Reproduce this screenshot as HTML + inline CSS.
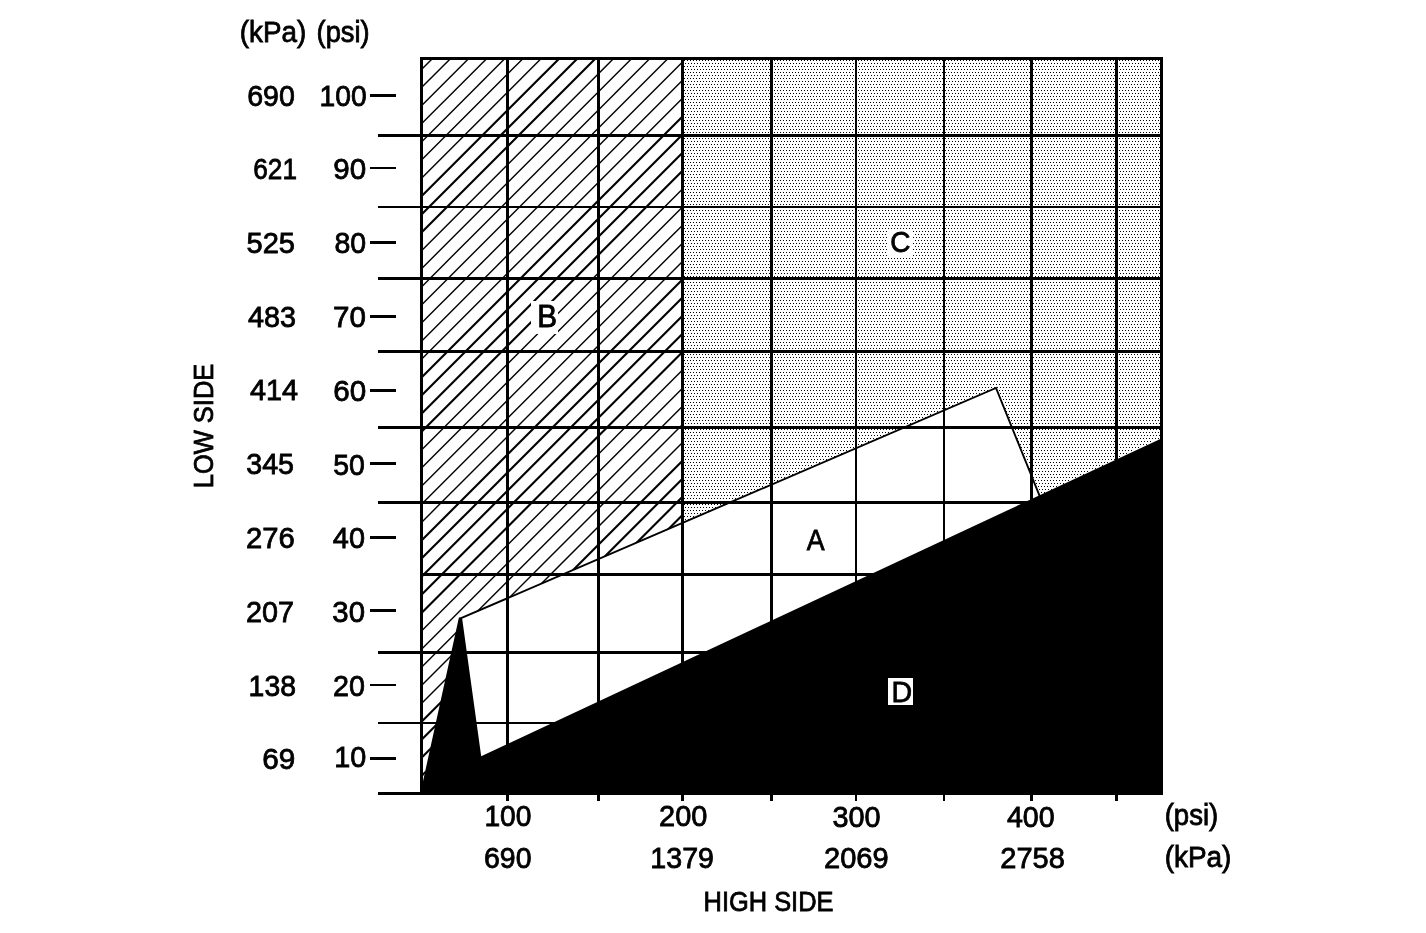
<!DOCTYPE html>
<html lang="en"><head><meta charset="utf-8"><title>A/C Pressure Chart</title>
<style>html,body{margin:0;padding:0;background:#fff}body{width:1426px;height:933px;overflow:hidden}svg{display:block;filter:grayscale(1)}text{font-family:"Liberation Sans",sans-serif;fill:#000;stroke:#000;stroke-width:0.8}</style></head><body>
<svg width="1426" height="933" viewBox="0 0 1426 933">
<defs>
<pattern id="dots" x="0" y="0" width="3" height="6" patternUnits="userSpaceOnUse"><rect x="0" y="0" width="1" height="1" fill="#000"/><rect x="1" y="3" width="1" height="1" fill="#000"/></pattern>
<clipPath id="cB"><polygon points="421.5,58.5 682.5,58.5 682.5,522.9 460.5,618.4 420.0,795.0"/></clipPath>
</defs>
<rect width="1426" height="933" fill="#fff"/>
<g clip-path="url(#cB)" stroke="#000" stroke-width="1.42">
<line x1="-359.00" y1="850.00" x2="451.00" y2="40.00"/>
<line x1="-340.88" y1="850.00" x2="469.12" y2="40.00"/>
<line x1="-322.77" y1="850.00" x2="487.23" y2="40.00"/>
<line x1="-304.65" y1="850.00" x2="505.35" y2="40.00"/>
<line x1="-286.54" y1="850.00" x2="523.46" y2="40.00"/>
<line x1="-268.42" y1="850.00" x2="541.58" y2="40.00"/>
<line x1="-250.31" y1="850.00" x2="559.69" y2="40.00"/>
<line x1="-232.20" y1="850.00" x2="577.80" y2="40.00" stroke-width="2.12"/>
<line x1="-214.08" y1="850.00" x2="595.92" y2="40.00" stroke-width="2.12"/>
<line x1="-195.97" y1="850.00" x2="614.03" y2="40.00" stroke-width="2.12"/>
<line x1="-177.85" y1="850.00" x2="632.15" y2="40.00"/>
<line x1="-159.74" y1="850.00" x2="650.26" y2="40.00"/>
<line x1="-141.62" y1="850.00" x2="668.38" y2="40.00"/>
<line x1="-123.50" y1="850.00" x2="686.50" y2="40.00"/>
<line x1="-105.39" y1="850.00" x2="704.61" y2="40.00"/>
<line x1="-87.28" y1="850.00" x2="722.72" y2="40.00"/>
<line x1="-69.16" y1="850.00" x2="740.84" y2="40.00"/>
<line x1="-51.05" y1="850.00" x2="758.95" y2="40.00" stroke-width="2.12"/>
<line x1="-32.93" y1="850.00" x2="777.07" y2="40.00" stroke-width="2.12"/>
<line x1="-14.82" y1="850.00" x2="795.18" y2="40.00" stroke-width="2.12"/>
<line x1="3.30" y1="850.00" x2="813.30" y2="40.00" stroke-width="2.12"/>
<line x1="21.41" y1="850.00" x2="831.41" y2="40.00"/>
<line x1="39.53" y1="850.00" x2="849.53" y2="40.00"/>
<line x1="57.64" y1="850.00" x2="867.64" y2="40.00"/>
<line x1="75.76" y1="850.00" x2="885.76" y2="40.00"/>
<line x1="93.88" y1="850.00" x2="903.88" y2="40.00"/>
<line x1="111.99" y1="850.00" x2="921.99" y2="40.00" stroke-width="2.12"/>
<line x1="130.11" y1="850.00" x2="940.11" y2="40.00" stroke-width="2.12"/>
<line x1="148.22" y1="850.00" x2="958.22" y2="40.00" stroke-width="2.12"/>
<line x1="166.33" y1="850.00" x2="976.33" y2="40.00" stroke-width="2.12"/>
<line x1="184.45" y1="850.00" x2="994.45" y2="40.00" stroke-width="2.12"/>
<line x1="202.57" y1="850.00" x2="1012.57" y2="40.00"/>
<line x1="220.68" y1="850.00" x2="1030.68" y2="40.00"/>
<line x1="238.80" y1="850.00" x2="1048.80" y2="40.00"/>
<line x1="256.91" y1="850.00" x2="1066.91" y2="40.00"/>
<line x1="275.03" y1="850.00" x2="1085.03" y2="40.00"/>
<line x1="293.14" y1="850.00" x2="1103.14" y2="40.00" stroke-width="2.12"/>
<line x1="311.26" y1="850.00" x2="1121.26" y2="40.00" stroke-width="2.12"/>
<line x1="329.37" y1="850.00" x2="1139.37" y2="40.00" stroke-width="2.12"/>
<line x1="347.48" y1="850.00" x2="1157.48" y2="40.00" stroke-width="2.12"/>
<line x1="365.60" y1="850.00" x2="1175.60" y2="40.00" stroke-width="2.12"/>
</g>
<polygon points="682.5,58.5 1161.5,58.5 1161.5,437.7 1039.5,495.6 996.0,388.0 682.5,522.9" fill="url(#dots)" shape-rendering="crispEdges"/>
<g fill="#000" shape-rendering="crispEdges">
<rect x="420" y="57" width="3" height="738"/>
<rect x="506" y="57" width="3" height="738"/>
<rect x="597" y="57" width="3" height="738"/>
<rect x="681" y="57" width="3" height="738"/>
<rect x="770" y="57" width="3" height="738"/>
<rect x="855" y="57" width="2" height="738"/>
<rect x="943" y="57" width="2" height="738"/>
<rect x="1030" y="57" width="3" height="738"/>
<rect x="1115" y="57" width="3" height="738"/>
<rect x="1160" y="57" width="3" height="738"/>
<rect x="420" y="57" width="743" height="3"/>
<rect x="378" y="134" width="785" height="3"/>
<rect x="378" y="206" width="785" height="2"/>
<rect x="378" y="277" width="785" height="3"/>
<rect x="378" y="350" width="785" height="3"/>
<rect x="378" y="426" width="785" height="3"/>
<rect x="378" y="501" width="785" height="3"/>
<rect x="420" y="573" width="743" height="3"/>
<rect x="378" y="651" width="785" height="3"/>
<rect x="378" y="722" width="785" height="2"/>
<rect x="378" y="792" width="785" height="3"/>
<rect x="370" y="94" width="26" height="3"/>
<rect x="370" y="167" width="26" height="2"/>
<rect x="370" y="241" width="26" height="3"/>
<rect x="370" y="315" width="26" height="3"/>
<rect x="370" y="389" width="26" height="3"/>
<rect x="370" y="462" width="26" height="3"/>
<rect x="370" y="536" width="26" height="3"/>
<rect x="370" y="609" width="26" height="3"/>
<rect x="370" y="684" width="26" height="2"/>
<rect x="370" y="757" width="26" height="3"/>
<rect x="506" y="795" width="3" height="6"/>
<rect x="597" y="795" width="3" height="6"/>
<rect x="681" y="795" width="3" height="6"/>
<rect x="770" y="795" width="3" height="6"/>
<rect x="855" y="795" width="2" height="6"/>
<rect x="943" y="795" width="2" height="6"/>
<rect x="1030" y="795" width="3" height="6"/>
<rect x="1115" y="795" width="3" height="6"/>
</g>
<polyline points="460.5,618.4 996.0,388.0 1039.5,495.6" fill="none" stroke="#000" stroke-width="1.9" stroke-linejoin="miter"/>
<polygon points="420.0,795.0 458.9,617.6 462.0,617.6 481.2,756.2 1163.0,437.7 1163.0,795.0" fill="#000"/>
<g fill="#fff" shape-rendering="crispEdges">
<rect x="887" y="230" width="26" height="27"/>
<rect x="531" y="301" width="27" height="33"/>
<rect x="888" y="678" width="25" height="27"/>
</g>
<text transform="matrix(0.9861 0 0 1.0165 247.21 105.84)" font-size="29">690</text>
<text transform="matrix(0.9016 0 0 1.0000 253.30 179.15)" font-size="29">621</text>
<text transform="matrix(1.0032 0 0 1.0024 246.45 252.85)" font-size="29">525</text>
<text transform="matrix(0.9926 0 0 1.0000 247.95 327.15)" font-size="29">483</text>
<text transform="matrix(0.9948 0 0 1.0098 250.05 400.45)" font-size="29" stroke-width="1.3">414</text>
<text transform="matrix(0.9882 0 0 1.0000 246.26 474.25)" font-size="29">345</text>
<text transform="matrix(1.0086 0 0 1.0000 245.99 547.95)" font-size="29" stroke-width="1.2">276</text>
<text transform="matrix(0.9924 0 0 1.0000 246.01 621.95)" font-size="29" stroke-width="1">207</text>
<text transform="matrix(0.9792 0 0 1.0306 248.59 696.13)" font-size="29">138</text>
<text transform="matrix(1.0248 0 0 1.0165 262.28 768.84)" font-size="29">69</text>
<text transform="matrix(0.9739 0 0 1.0000 319.60 105.65)" font-size="29">100</text>
<text transform="matrix(1.0197 0 0 1.0000 333.28 179.15)" font-size="29">90</text>
<text transform="matrix(0.9821 0 0 1.0024 334.46 252.85)" font-size="29">80</text>
<text transform="matrix(1.0197 0 0 1.0000 332.98 327.25)" font-size="29">70</text>
<text transform="matrix(1.0197 0 0 1.0165 333.28 400.84)" font-size="29">60</text>
<text transform="matrix(0.9821 0 0 1.0024 333.26 474.85)" font-size="29">50</text>
<text transform="matrix(0.9952 0 0 1.0165 332.85 547.94)" font-size="29">40</text>
<text transform="matrix(1.0114 0 0 1.0165 332.34 621.94)" font-size="29">30</text>
<text transform="matrix(0.9902 0 0 1.0165 333.01 695.84)" font-size="29">20</text>
<text transform="matrix(0.9916 0 0 1.0000 334.36 766.85)" font-size="29">10</text>
<text transform="matrix(0.9594 0 0 1.0000 239.76 42.25)" font-size="29">(kPa)</text>
<text transform="matrix(0.9421 0 0 1.0000 316.59 42.00)" font-size="29">(psi)</text>
<text transform="matrix(0.9739 0 0 1.0118 484.40 825.94)" font-size="29">100</text>
<text transform="matrix(0.9818 0 0 1.0000 484.02 868.05)" font-size="29">690</text>
<text transform="matrix(0.9989 0 0 1.0000 659.10 826.35)" font-size="29">200</text>
<text transform="matrix(0.9862 0 0 1.0000 650.37 867.75)" font-size="29">1379</text>
<text transform="matrix(0.9957 0 0 1.0071 832.45 826.74)" font-size="29">300</text>
<text transform="matrix(1.0032 0 0 1.0118 824.00 868.04)" font-size="29">2069</text>
<text transform="matrix(0.9874 0 0 1.0000 1006.95 826.55)" font-size="29">400</text>
<text transform="matrix(1.0008 0 0 1.0000 1000.30 868.45)" font-size="29" stroke-width="1.1">2758</text>
<text transform="matrix(0.9514 0 0 1.0000 1164.67 825.30)" font-size="29">(psi)</text>
<text transform="matrix(0.9639 0 0 1.0000 1164.65 867.35)" font-size="29" stroke-width="1.2">(kPa)</text>
<text transform="matrix(0.9417 0 0 1.0000 703.55 910.95)" font-size="27" stroke-width="1">HIGH SIDE</text>
<text transform="matrix(0.8905 0 0 1.0000 806.65 549.55)" font-size="30">A</text>
<text transform="matrix(0.9910 0 0 1.0165 537.22 327.45)" font-size="30" stroke-width="1.1">B</text>
<text transform="matrix(0.9316 0 0 1.0000 890.14 252.05)" font-size="30">C</text>
<text transform="matrix(0.9514 0 0 1.0118 891.40 701.55)" font-size="30">D</text>
<text transform="translate(213.20 488.25) rotate(-90) scale(0.9436 1.0000)" font-size="27" stroke-width="1.2">LOW SIDE</text>
</svg></body></html>
